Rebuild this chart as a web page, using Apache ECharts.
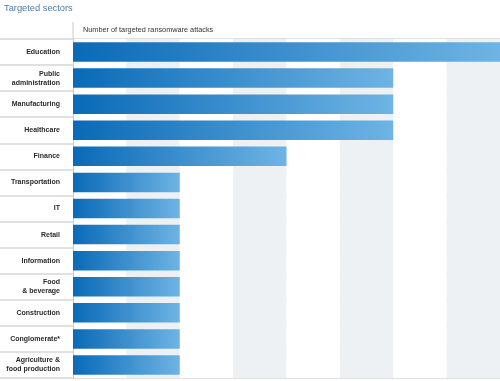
<!DOCTYPE html>
<html>
<head>
<meta charset="utf-8">
<script src="https://cdn.jsdelivr.net/npm/echarts@6/dist/echarts.min.js"></script>
<style>html,body{margin:0;padding:0;background:#fff;}#c{width:500px;height:381px;}</style>
</head>
<body>
<div id="c"></div>
<script>
const categories = ["Education","Public\nadministration","Manufacturing","Healthcare","Finance","Transportation","IT","Retail","Information","Food\n& beverage","Construction","Conglomerate*","Agriculture &\nfood production"];
const attacks = [4,3,3,3,2,1,1,1,1,1,1,1,1];
const xMin = 0, xMax = 4, xStep = 0.5;

const chart = echarts.init(document.getElementById('c'), null, {renderer:'canvas'});
chart.setOption({
  animation:false,
  backgroundColor:'#ffffff',
  title:{text:'Targeted sectors',left:4,top:4,padding:0,textStyle:{fontFamily:'Liberation Sans',fontSize:9.3,fontWeight:'normal',color:'#4a7ea8'}},
  graphic:[
    {type:'text',left:83,top:26,style:{text:'Number of targeted ransomware attacks',fontFamily:'Liberation Sans',fontSize:7.3,fill:'#333'}},
    {type:'line',shape:{x1:73,y1:22,x2:73,y2:39},style:{stroke:'#c8c8c8',lineWidth:1}}
  ],
  grid:{left:73,right:0,top:39,bottom:3,containLabel:false,outerBoundsMode:'none'},
  xAxis:{type:'value',min:xMin,max:xMax,interval:xStep,
    axisLabel:{show:false},axisLine:{show:false},axisTick:{show:false},
    splitLine:{show:false},
    splitArea:{show:true,areaStyle:{color:['#ffffff','#eef1f4']}}},
  yAxis:{type:'category',inverse:true,data:categories,
    axisLine:{show:true,lineStyle:{color:'#c8c8c8',width:1}},
    axisTick:{show:true,length:73,lineStyle:{color:'#d6d6d6',width:1.5}},
    splitLine:{show:true,lineStyle:{color:'#d6d6d6',width:1.5}},
    axisLabel:{margin:13,fontFamily:'Liberation Sans',fontSize:7,fontWeight:'bold',color:'#2a2a2a',lineHeight:9}},
  series:[{type:'bar',data:attacks,barWidth:19.5,
    itemStyle:{color:new echarts.graphic.LinearGradient(0,0,1,0,[{offset:0,color:'#0a6ab7'},{offset:1,color:'#6eb4e4'}])}}]
});
</script>
</body>
</html>
